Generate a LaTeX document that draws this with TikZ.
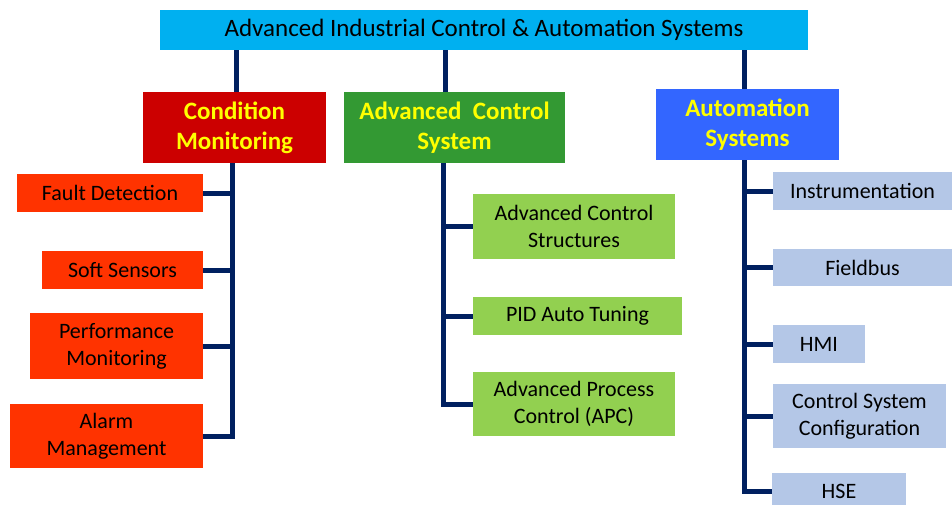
\documentclass[tikz,border=0pt]{standalone}
\usepackage{fontspec}
\setmainfont{Carlito}
\usetikzlibrary{calc}
\definecolor{topc}{HTML}{00B0F0}
\definecolor{cmc}{HTML}{CC0000}
\definecolor{acsc}{HTML}{339933}
\definecolor{asc}{HTML}{3366FF}
\definecolor{redsub}{HTML}{FF3300}
\definecolor{greensub}{HTML}{92D050}
\definecolor{bluesub}{HTML}{B4C7E7}
\definecolor{navy}{HTML}{002060}
\definecolor{yel}{HTML}{FFFF00}
\tikzset{
  box/.style={inner sep=0pt, align=center, text=black},
  headbox/.style={box, text=yel, font=\bfseries\fontsize{25}{30}\selectfont},
  subbox/.style={box, font=\fontsize{22}{27}\selectfont},
  conn/.style={draw=navy, line width=5pt},
}
\begin{document}
\begin{tikzpicture}[x=1pt,y=-1pt]
\useasboundingbox (0,0) rectangle (952,505);
% top
\node[box, fill=topc, minimum width=648pt, minimum height=40pt, font=\fontsize{25}{30}\selectfont] (top) at (484,30) {Advanced Industrial Control \& Automation Systems};
% heads
\node[headbox, fill=cmc, minimum width=183pt, minimum height=71pt] (cm) at (234.5,127.5) {Condition\\Monitoring};
\node[headbox, fill=acsc, minimum width=221pt, minimum height=71pt] (acs) at (454.5,127.5) {Advanced\ \ Control\\System};
\node[headbox, fill=asc, minimum width=183pt, minimum height=71pt] (as) at (747.5,124.5) {Automation\\Systems};
% left subs
\node[subbox, fill=redsub, minimum width=186pt, minimum height=38pt] (fd) at (110,193) {Fault Detection};
\node[subbox, fill=redsub, minimum width=161pt, minimum height=38pt] (ss) at (122.5,270) {Soft Sensors};
\node[subbox, fill=redsub, minimum width=173pt, minimum height=66pt] (pm) at (116.5,346) {Performance\\Monitoring};
\node[subbox, fill=redsub, minimum width=193pt, minimum height=64pt] (am) at (106.5,436) {Alarm\\Management};
% middle subs
\node[subbox, fill=greensub, minimum width=202pt, minimum height=65pt] (acst) at (574,226.5) {Advanced Control\\Structures};
\node[subbox, fill=greensub, minimum width=209pt, minimum height=38pt] (pid) at (577.5,316) {PID Auto Tuning};
\node[subbox, fill=greensub, minimum width=202pt, minimum height=64pt] (apc) at (574,404) {Advanced Process\\Control (APC)};
% right subs
\node[subbox, fill=bluesub, minimum width=179pt, minimum height=38pt] (inst) at (862.5,191) {Instrumentation};
\node[subbox, fill=bluesub, minimum width=179pt, minimum height=37pt] (fb) at (862.5,267.5) {Fieldbus};
\node[subbox, fill=bluesub, minimum width=92pt, minimum height=38pt] (hmi) at (819,344) {HMI};
\node[subbox, fill=bluesub, minimum width=173pt, minimum height=64pt] (csc) at (859.5,416) {Control System\\Configuration};
\node[subbox, fill=bluesub, minimum width=134pt, minimum height=37pt] (hse) at (839,491.5) {HSE};
% top connectors
\draw[conn] ([xshift=1.5pt]cm.north) -- ([xshift=1.5pt]cm.north |- top.south);
\draw[conn] ([xshift=-9.5pt]acs.north) -- ([xshift=-9.5pt]acs.north |- top.south);
\draw[conn] ([xshift=-3.5pt]as.north) -- ([xshift=-3.5pt]as.north |- top.south);
% left trunk
\coordinate (lt) at ([xshift=-2.5pt]cm.south);
\draw[conn] (lt) |- (am.east);
\draw[conn] (fd.east) -- (fd.east -| lt);
\draw[conn] (ss.east) -- (ss.east -| lt);
\draw[conn] (pm.east) -- (pm.east -| lt);
% middle trunk
\coordinate (mt) at ([xshift=-11.5pt]acs.south);
\draw[conn] (mt) |- (apc.west);
\draw[conn] (acst.west) -- (acst.west -| mt);
\draw[conn] (pid.west) -- (pid.west -| mt);
% right trunk
\coordinate (rt) at ([xshift=-3.5pt]as.south);
\draw[conn] (rt) |- (hse.west);
\draw[conn] (inst.west) -- (inst.west -| rt);
\draw[conn] (fb.west) -- (fb.west -| rt);
\draw[conn] (hmi.west) -- (hmi.west -| rt);
\draw[conn] (csc.west) -- (csc.west -| rt);
\end{tikzpicture}
\end{document}
